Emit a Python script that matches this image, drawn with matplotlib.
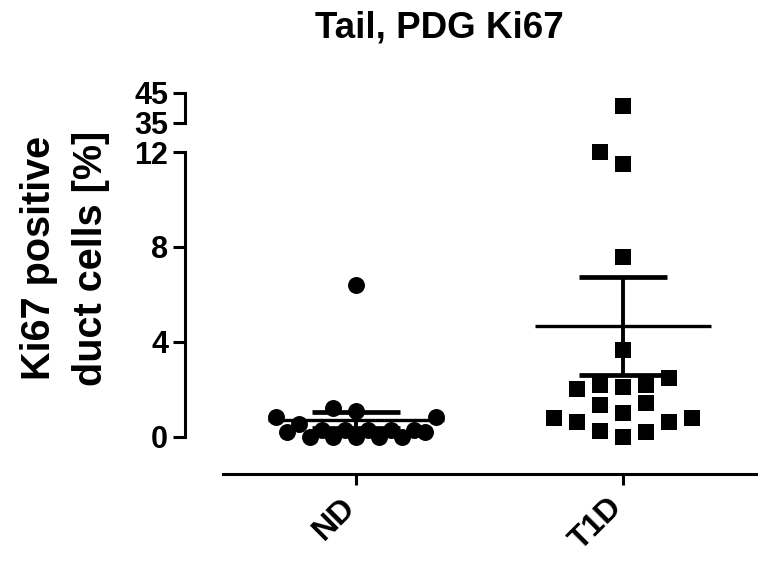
#!/usr/bin/env python
# coding: utf-8

import matplotlib

matplotlib.use("Agg")
import matplotlib.pyplot as plt
import matplotlib.transforms as mtransforms
import numpy as np
from matplotlib.ticker import FixedLocator

# Constants
FONT_FAMILY = ["Liberation Sans", "DejaVu Sans"]
DPI = 100
FIG_W, FIG_H = 761, 562
SLOT_WIDTH = 0.086  # horizontal spread of one marker slot (x units)
MEAN_HALF = 0.33
LW = 2.2

# Data
GROUPS = ["ND", "T1D"]
ND_VALUES = [6.4, 1.22, 1.1, 0.84, 0.84, 0.55, 0.21, 0.21,
             0.3, 0.3, 0.3, 0.3, 0.3, 0.0, 0.0, 0.0, 0.0, 0.0]
ND_SLOTS = [0, -1, 0, -3.5, 3.5, -2.5, -3, 3,
            -1.5, -0.5, 0.5, 1.5, 2.5, -2, -1, 0, 1, 2]
T1D_VALUES = [40.7, 12.0, 11.5, 7.58, 3.66, 2.48, 2.02, 2.19, 2.11, 2.19,
              1.35, 1.43, 1.01, 0.8, 0.63, 0.63, 0.8, 0.25, 0.0, 0.21]
T1D_SLOTS = [0, -1, 0, 0, 0, 2, -2, -1, 0, 1,
             -1, 1, 0, -3, -2, 2, 3, -1, 0, 1]
LOWER_TICKS = [0, 4, 8, 12]
UPPER_TICKS = [35, 45]


def px_rect(left, top, right, bottom):
    """Axes rectangle from pixel edges (origin top-left)."""
    return [left / FIG_W, 1 - bottom / FIG_H, (right - left) / FIG_W,
            (bottom - top) / FIG_H]


def style_left(ax, ticks, bounds, break_tick):
    ax.spines["left"].set_position(("outward", 27.4))
    ax.spines["left"].set_bounds(*bounds)
    ax.spines["left"].set_linewidth(LW)
    for side in ["top", "right"]:
        ax.spines[side].set_visible(False)
    ax.set_yticks(ticks)
    ax.yaxis.set_minor_locator(FixedLocator([break_tick]))
    ax.tick_params(axis="y", which="major", direction="out", length=8.6,
                   width=LW, pad=3.5, labelsize=22)
    ax.tick_params(axis="y", which="minor", direction="in", length=5,
                   width=LW)
    for lab in ax.get_yticklabels():
        lab.set_fontweight("bold")


def plot_group(ax_lo, ax_hi, xpos, values, slots, marker, ms):
    vals = np.asarray(values, dtype=float)
    xs = xpos + np.asarray(slots, dtype=float) * SLOT_WIDTH
    lo = vals <= 13
    hi = vals >= 35
    ax_lo.plot(xs[lo], vals[lo], marker, color="black", ms=ms, mew=0,
               linestyle="none", clip_on=False, zorder=3)
    ax_hi.plot(xs[hi], vals[hi], marker, color="black", ms=ms, mew=0,
               linestyle="none", clip_on=False, zorder=3)

    # mean with SEM error bar
    mean = vals.mean()
    sem = vals.std(ddof=1) / np.sqrt(len(vals))
    ax_lo.hlines(mean, xpos - MEAN_HALF, xpos + MEAN_HALF, color="black",
                 linewidth=2.4, zorder=4)
    ax_lo.errorbar(xpos, mean, yerr=sem, fmt="none", ecolor="black",
                   elinewidth=2.8, capsize=32, capthick=3.4, zorder=4)


def main() -> None:
    plt.rcParams["font.family"] = FONT_FAMILY
    plt.rcParams["font.weight"] = "bold"

    fig = plt.figure(figsize=(FIG_W / DPI, FIG_H / DPI), dpi=DPI)
    ax_lo = fig.add_axes(px_rect(223, 152, 756, 474))
    ax_hi = fig.add_axes(px_rect(223, 93, 756, 123))

    x = np.arange(len(GROUPS))
    for ax in (ax_lo, ax_hi):
        ax.set_xlim(-0.5, 1.5)

    ax_lo.set_ylim(-1.558, 12)
    ax_hi.set_ylim(35, 45)

    style_left(ax_lo, LOWER_TICKS, (0, 12), 12)
    style_left(ax_hi, UPPER_TICKS, (35, 45), 35)

    ax_hi.spines["bottom"].set_visible(False)
    ax_hi.set_xticks([])

    ax_lo.spines["bottom"].set_linewidth(LW)
    ax_lo.set_xticks(x)
    ax_lo.set_xticklabels(GROUPS, rotation=45, ha="right", fontsize=23,
                          fontweight="bold")
    ax_lo.tick_params(axis="x", direction="out", length=8, width=LW, pad=5)
    # nudge labels a little to the right, as in the source figure
    offset = mtransforms.ScaledTranslation(4 / 72, 0, fig.dpi_scale_trans)
    for lab in ax_lo.get_xticklabels():
        lab.set_transform(lab.get_transform() + offset)

    plot_group(ax_lo, ax_hi, x[0], ND_VALUES, ND_SLOTS, "o", 12.2)
    plot_group(ax_lo, ax_hi, x[1], T1D_VALUES, T1D_SLOTS, "s", 11.5)

    fig.text(439 / FIG_W, 1 - 28 / FIG_H, "Tail, PDG Ki67", ha="center",
             va="center", fontsize=26.5, fontweight="bold")
    fig.text(65 / FIG_W, 1 - 258 / FIG_H, "Ki67 positive\nduct cells [%]",
             rotation=90, ha="center", va="center", multialignment="center",
             fontsize=28.5, fontweight="bold", linespacing=1.45)

    fig.savefig("out.png", dpi=DPI)


if __name__ == "__main__":
    main()
